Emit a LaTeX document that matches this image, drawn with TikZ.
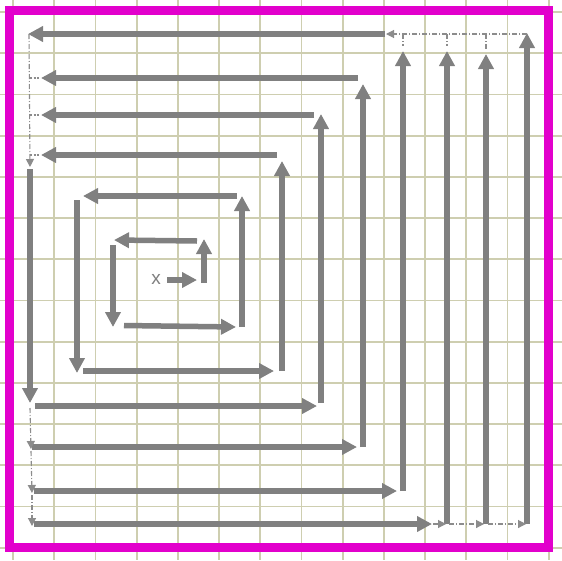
\documentclass[tikz,border=0pt]{standalone}
\usepackage{fontspec}
\setmainfont{Liberation Sans}
\usetikzlibrary{arrows.meta}
\definecolor{gridc}{RGB}{206,206,176}
\definecolor{frame}{RGB}{226,0,204}
\definecolor{arr}{RGB}{128,128,128}
\definecolor{dd}{RGB}{140,140,140}
\tikzset{
  grid line/.style={draw=gridc, line width=1.8pt},
  bigarrow/.style={draw=arr, line width=5.5pt, -{Triangle[width=15pt,length=15pt]}},
  plainthick/.style={draw=arr, line width=5.5pt},
  conn/.style={draw=dd, line width=1.1pt, dash pattern=on 5pt off 2pt on 1pt off 2pt},
  connarrow/.style={conn, -{Triangle[width=8pt,length=8pt]}},
  stub/.style={draw=dd, line width=1.1pt, dash pattern=on 2pt off 1.5pt},
}
\begin{document}
\begin{tikzpicture}[x=1pt,y=-1pt]
\useasboundingbox (0,0) rectangle (562,560);
\fill[white] (0,0) rectangle (562,560);
% grid
\foreach \i in {0,...,13} {
  \draw[grid line] ({13+41.2*\i},0) -- ({13+41.2*\i},560);
  \draw[grid line] (0,{12+41.2*\i}) -- (562,{12+41.2*\i});
}
% frame
\draw[draw=frame, line width=9pt] (9,10.5) rectangle (548.5,547.5);

% label
\node[text=arr, font=\fontsize{19}{19}\selectfont, inner sep=0pt] (xl) at (156,279) {x};
\coordinate (a1s) at (167,280);
\draw[bigarrow] (a1s) -- (197,280);
% ring 0
\draw[bigarrow] (204,283) -- (204,239);
\draw[bigarrow] (197,241) -- (114,240);
\draw[bigarrow] (113,245) -- (113,327);
\draw[bigarrow] (124,325.5) -- (236,327);
\draw[bigarrow] (242,327) -- (242,196);
\draw[bigarrow] (237,196) -- (83,196);
\draw[bigarrow] (77,200) -- (77,373);
\draw[bigarrow] (83,371) -- (274,371);
\draw[bigarrow] (282,371) -- (282,161);
\draw[bigarrow] (277,155) -- (41,155);
\draw[bigarrow] (30,169) -- (30,403);
\draw[bigarrow] (35,406) -- (317,406);
\draw[bigarrow] (321,403) -- (321,114);
\draw[bigarrow] (314,115) -- (41,115);
\draw[bigarrow] (32,447) -- (357,447);
\draw[bigarrow] (363,447) -- (363,84);
\draw[bigarrow] (358,78) -- (41,78);
\draw[bigarrow] (34,491) -- (397,491);
\draw[bigarrow] (403,491) -- (403,51);
\draw[bigarrow] (34,524) -- (432,524);
\draw[bigarrow] (447,524) -- (447,51);
\draw[bigarrow] (486,524) -- (486,54);
\draw[bigarrow] (527,524) -- (527,33);
\draw[bigarrow] (385,34) -- (28,34);

% dash-dot connectors, top
\draw[connarrow] (527,34) -- (386,34);
\draw[conn] (403,34) -- (403,46);
\draw[conn] (447,34) -- (447,46);
\draw[conn] (486,34) -- (486,49);
% left upper
\draw[connarrow] (29,34) -- (30,167);
\draw[stub] (30,78) -- (40,78);
\draw[stub] (30,115) -- (40,115);
\draw[stub] (30,155) -- (40,155);
% left lower
\draw[connarrow] (30,408) -- (31,449);
\draw[connarrow] (31,451) -- (32,493);
\draw[connarrow] (32,495) -- (32,526);
% bottom right
\draw[connarrow] (433,524) -- (446,524);
\draw[connarrow] (449,524) -- (484,524);
\draw[connarrow] (488,524) -- (526,524);
\end{tikzpicture}
\end{document}
